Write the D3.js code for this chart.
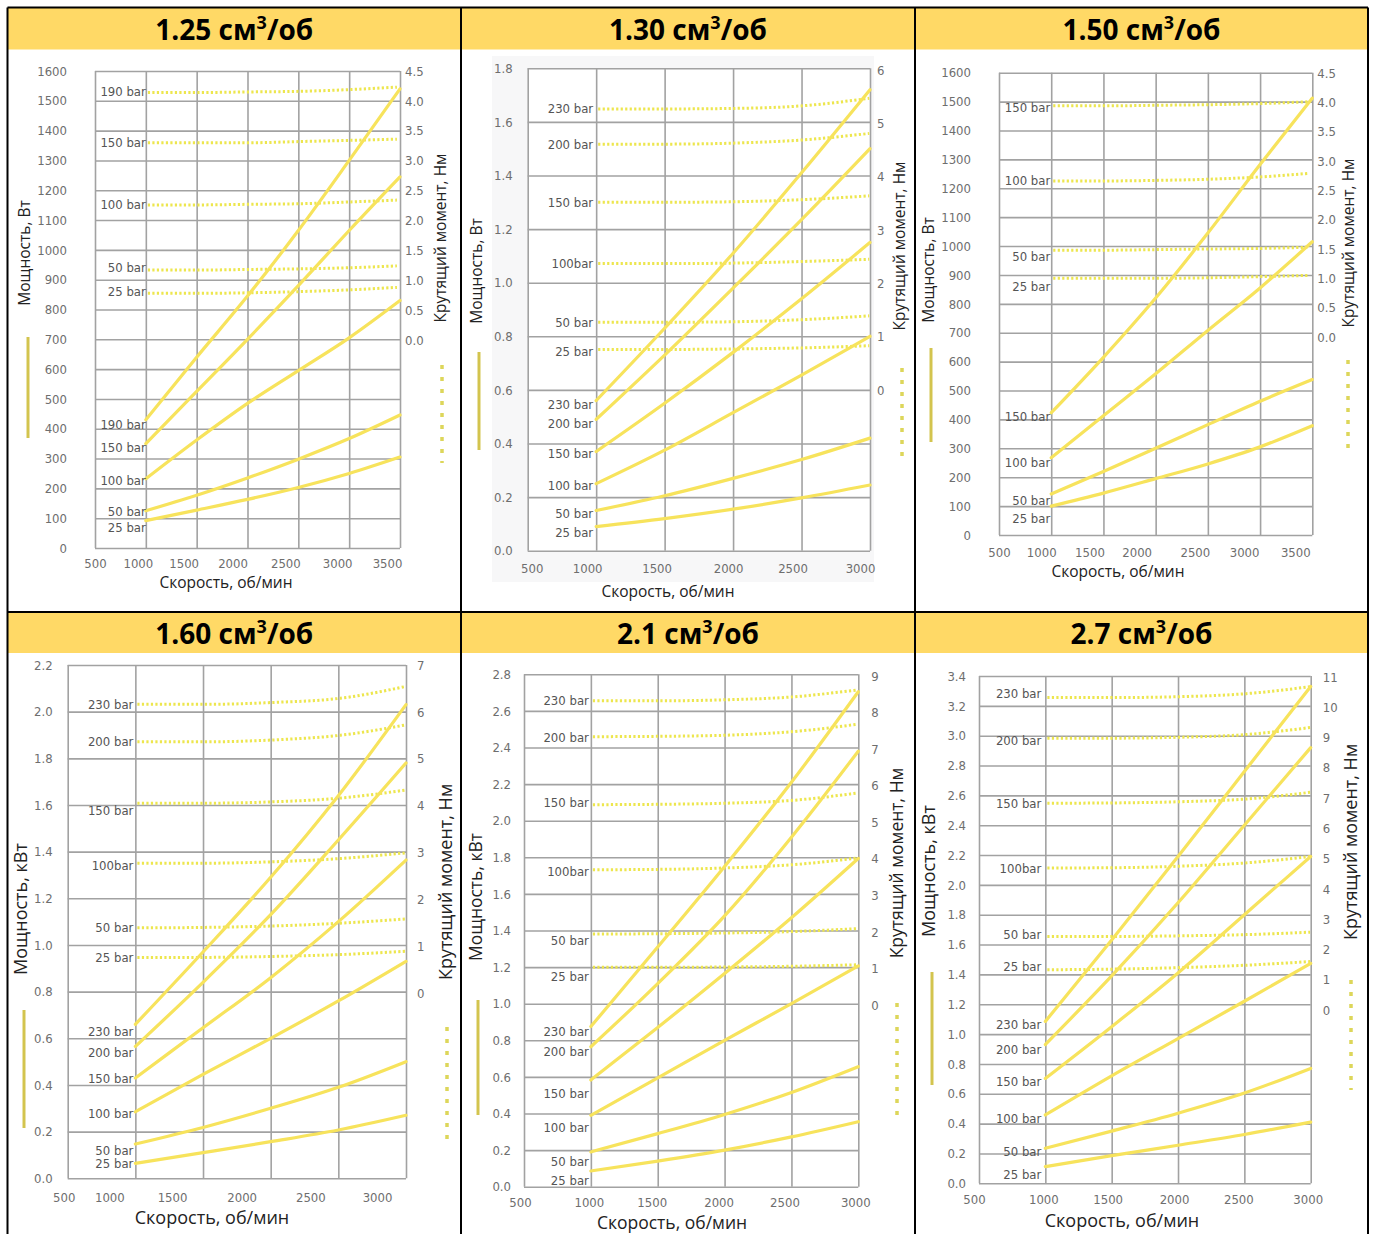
<!DOCTYPE html>
<html><head><meta charset="utf-8">
<script src="https://cdn.jsdelivr.net/npm/d3@7/dist/d3.min.js"></script>
<style>
body{margin:0;background:#fff;}
svg{display:block;}
.tk{font-family:"Liberation Sans Narrow","DejaVu Sans Condensed","Liberation Sans",Arial,sans-serif;font-size:13px;fill:#6e6e6e;}
.bl{font-family:"Liberation Sans Narrow","DejaVu Sans Condensed","Liberation Sans",Arial,sans-serif;font-size:13px;fill:#555;}
.at{font-family:"Open Sans","Noto Sans",sans-serif;fill:#222;}
.hd{font-family:"Open Sans","Noto Sans",sans-serif;font-weight:700;font-size:28px;fill:#000;}
</style></head><body>
<svg id="c" width="1376" height="1234"></svg>
<script>
// ---------------- DATA ----------------
const titles = ["1.25","1.30","1.50","1.60","2.1","2.7"];
const powerTitles = ["Мощность, Вт","Мощность, Вт","Мощность, Вт","Мощность, кВт","Мощность, кВт","Мощность, кВт"];
const torqueTitle = "Крутящий момент, Нм";
const speedTitle = "Скорость, об/мин";

const xTicks35 = [500,1000,1500,2000,2500,3000,3500];
const xTicks30 = [500,1000,1500,2000,2500,3000];
const rpm35 = [1000,1500,2000,2500,3000,3500];
const rpm30 = [1000,1500,2000,2500,3000];
const torqueRpm35 = [1000,1500,2000,2500,3000,3450];
const torqueRpm30 = [1000,1500,2000,2500,2980];

// panel 1: 1.25
const p1Bars = ["190 bar","150 bar","100 bar","50 bar","25 bar"];
const p1TorqueLabels = ["190 bar","150 bar","100 bar","50 bar","25 bar"];
const p1PowerTicks = [0,100,200,300,400,500,600,700,800,900,1000,1100,1200,1300,1400,1500,1600];
const p1TorqueTicks = [0,0.5,1.0,1.5,2.0,2.5,3.0,3.5,4.0,4.5];
const p1Power = [
  [430,640,845,1065,1300,1540],
  [350,525,700,880,1065,1245],
  [232,362,485,595,705,830],
  [125,177,235,298,367,446],
  [92,127,163,203,250,305]
];
const p1Torque = [
  [4.14,4.14,4.15,4.16,4.19,4.23],
  [3.30,3.30,3.30,3.32,3.34,3.36],
  [2.26,2.26,2.27,2.28,2.31,2.34],
  [1.17,1.17,1.18,1.19,1.21,1.24],
  [0.78,0.78,0.79,0.81,0.84,0.88]
];

// panel 2: 1.30
const p2Bars = ["230 bar","200 bar","150 bar","100 bar","50 bar","25 bar"];
const p2TorqueLabels = ["230 bar","200 bar","150 bar","100bar","50 bar","25 bar"];
const p2PowerTicks = [0,0.2,0.4,0.6,0.8,1.0,1.2,1.4,1.6,1.8];
const p2TorqueTicks = [0,1,2,3,4,5,6];
const p2Power = [
  [0.56,0.83,1.11,1.41,1.72],
  [0.49,0.73,0.98,1.235,1.50],
  [0.37,0.55,0.74,0.94,1.15],
  [0.25,0.375,0.515,0.655,0.80],
  [0.15,0.205,0.27,0.34,0.42],
  [0.09,0.12,0.155,0.197,0.245]
];
const p2Torque = [
  [5.27,5.27,5.28,5.33,5.47],
  [4.61,4.61,4.63,4.69,4.81],
  [3.52,3.52,3.53,3.57,3.64],
  [2.37,2.37,2.38,2.41,2.45],
  [1.27,1.27,1.28,1.32,1.39],
  [0.76,0.76,0.77,0.79,0.83]
];

// panel 3: 1.50
const p3Bars = ["150 bar","100 bar","50 bar","25 bar"];
const p3TorqueLabels = ["150 bar","100 bar","50 bar","25 bar"];
const p3PowerTicks = [0,100,200,300,400,500,600,700,800,900,1000,1100,1200,1300,1400,1500,1600];
const p3TorqueTicks = [0,0.5,1.0,1.5,2.0,2.5,3.0,3.5,4.0,4.5];
const p3Power = [
  [423,615,820,1045,1282,1512],
  [267,413,558,708,855,1015],
  [142,220,300,382,463,538],
  [100,145,195,246,305,378]
];
const p3Torque = [
  [3.94,3.94,3.95,3.96,3.98,4.01],
  [2.66,2.66,2.67,2.69,2.73,2.79],
  [1.48,1.48,1.49,1.50,1.51,1.53],
  [1.00,1.00,1.00,1.01,1.03,1.05]
];

// panel 4: 1.60
const p4Bars = ["230 bar","200 bar","150 bar","100 bar","50 bar","25 bar"];
const p4TorqueLabels = ["230 bar","200 bar","150 bar","100bar","50 bar","25 bar"];
const p4PowerTicks = [0,0.2,0.4,0.6,0.8,1.0,1.2,1.4,1.6,1.8,2.0,2.2];
const p4TorqueTicks = [0,1,2,3,4,5,6,7];
const p4Power = [
  [0.66,0.97,1.29,1.64,2.03],
  [0.565,0.84,1.13,1.45,1.78],
  [0.43,0.645,0.86,1.10,1.364],
  [0.285,0.445,0.60,0.76,0.93],
  [0.147,0.218,0.30,0.39,0.50],
  [0.064,0.11,0.157,0.207,0.27]
];
const p4Torque = [
  [6.16,6.16,6.20,6.29,6.54],
  [5.36,5.36,5.40,5.50,5.72],
  [4.05,4.05,4.08,4.16,4.33],
  [2.77,2.77,2.80,2.87,2.99],
  [1.39,1.40,1.43,1.49,1.58],
  [0.76,0.76,0.78,0.82,0.89]
];

// panel 5: 2.1
const p5Bars = ["230 bar","200 bar","150 bar","100 bar","50 bar","25 bar"];
const p5TorqueLabels = ["230 bar","200 bar","150 bar","100bar","50 bar","25 bar"];
const p5PowerTicks = [0,0.2,0.4,0.6,0.8,1.0,1.2,1.4,1.6,1.8,2.0,2.2,2.4,2.6,2.8];
const p5TorqueTicks = [0,1,2,3,4,5,6,7,8,9];
const p5Power = [
  [0.875,1.31,1.75,2.21,2.705],
  [0.765,1.11,1.48,1.91,2.38],
  [0.583,0.87,1.165,1.47,1.794],
  [0.39,0.595,0.80,1.0,1.207],
  [0.19,0.29,0.395,0.515,0.656],
  [0.086,0.14,0.20,0.272,0.355]
];
const p5Torque = [
  [8.32,8.32,8.35,8.43,8.62],
  [7.34,7.35,7.38,7.48,7.68],
  [5.48,5.49,5.52,5.60,5.80],
  [3.70,3.71,3.75,3.84,4.02],
  [1.94,1.95,1.97,2.01,2.09],
  [1.03,1.03,1.04,1.06,1.10]
];

// panel 6: 2.7
const p6Bars = ["230 bar","200 bar","150 bar","100 bar","50 bar","25 bar"];
const p6TorqueLabels = ["230 bar","200 bar","150 bar","100bar","50 bar","25 bar"];
const p6PowerTicks = [0,0.2,0.4,0.6,0.8,1.0,1.2,1.4,1.6,1.8,2.0,2.2,2.4,2.6,2.8,3.0,3.2,3.4];
const p6TorqueTicks = [0,1,2,3,4,5,6,7,8,9,10,11];
const p6Power = [
  [1.085,1.63,2.19,2.76,3.33],
  [0.93,1.39,1.88,2.40,2.92],
  [0.703,1.05,1.41,1.80,2.19],
  [0.458,0.72,0.97,1.22,1.474],
  [0.235,0.35,0.47,0.605,0.77],
  [0.112,0.185,0.255,0.327,0.41]
];
const p6Torque = [
  [10.32,10.32,10.35,10.45,10.68],
  [8.98,8.98,9.01,9.10,9.33],
  [6.83,6.84,6.88,6.97,7.19],
  [4.69,4.70,4.75,4.86,5.07],
  [2.43,2.43,2.45,2.49,2.57],
  [1.33,1.35,1.40,1.48,1.60]
];

const panelData = [
  {bars:p1Bars, tl:p1TorqueLabels, pt:p1PowerTicks, tt:p1TorqueTicks, pw:p1Power, tq:p1Torque, xt:xTicks35, rpm:rpm35, trpm:torqueRpm35, pf:d3.format("d"), tf:d3.format(".1f")},
  {bars:p2Bars, tl:p2TorqueLabels, pt:p2PowerTicks, tt:p2TorqueTicks, pw:p2Power, tq:p2Torque, xt:xTicks30, rpm:rpm30, trpm:torqueRpm30, pf:d3.format(".1f"), tf:d3.format("d")},
  {bars:p3Bars, tl:p3TorqueLabels, pt:p3PowerTicks, tt:p3TorqueTicks, pw:p3Power, tq:p3Torque, xt:xTicks35, rpm:rpm35, trpm:torqueRpm35, pf:d3.format("d"), tf:d3.format(".1f")},
  {bars:p4Bars, tl:p4TorqueLabels, pt:p4PowerTicks, tt:p4TorqueTicks, pw:p4Power, tq:p4Torque, xt:xTicks30, rpm:rpm30, trpm:torqueRpm30, pf:d3.format(".1f"), tf:d3.format("d")},
  {bars:p5Bars, tl:p5TorqueLabels, pt:p5PowerTicks, tt:p5TorqueTicks, pw:p5Power, tq:p5Torque, xt:xTicks30, rpm:rpm30, trpm:torqueRpm30, pf:d3.format(".1f"), tf:d3.format("d")},
  {bars:p6Bars, tl:p6TorqueLabels, pt:p6PowerTicks, tt:p6TorqueTicks, pw:p6Power, tq:p6Torque, xt:xTicks30, rpm:rpm30, trpm:torqueRpm30, pf:d3.format(".1f"), tf:d3.format("d")}
];

// ---------------- LAYOUT ----------------
const colX = [7.5, 461, 915, 1368];
const rowY = [7.5, 612];
const headH = [42, 41];
const layout = [
  {x:[95,400], y:[548,71], t:[340,71], yGap:28, tGap:5, xLabY:563, xShift:[0,-8,-13,-15,-13,-12,-13], labX:0,
   dyT:[-1,0,0,-3,-2], dyP:[5,4,2,1,7], lt:[25,253], rt:[441,238], bt:[226,583], fs:15.5, legS:[28,337,438], legD:[442,365,463]},
  {x:[527.7,870], y:[550.7,68.3], t:[390,70], yGap:15, tGap:7, xLabY:568, xShift:[4,-9,-8,-5,-9,-10], labX:-3,
   dyT:[0,0,0,0,0,2], dyP:[4,4,2,2,3,6], lt:[477,271], rt:[900,246], bt:[668,592], fs:15.5, legS:[479,352,450], legD:[902,368,463], bg:[492,56,874,582]},
  {x:[999,1312.3], y:[535,72.7], t:[337,73], yGap:28, tGap:5, xLabY:552, xShift:[0,-10,-14,-19,-13,-16,-17], labX:-1,
   dyT:[2,0,6,8], dyP:[4,5,6,12], lt:[929,270], rt:[1349,243], bt:[1118,572], fs:15.5, legS:[931,348,442], legD:[1348,360,452]},
  {x:[67.7,406], y:[1178.3,665], t:[993,665], yGap:15, tGap:11, xLabY:1197, xShift:[-4,-26,-31,-29,-28,-29], labX:-2,
   dyT:[0,0,7,2,0,0], dyP:[7,6,0,2,6,0], lt:[21,909], rt:[446,882], bt:[212,1218], fs:18, legS:[24,1010,1128], legD:[447,1027,1143]},
  {x:[524,858.3], y:[1186.7,674.3], t:[1005,676], yGap:13, tGap:13, xLabY:1202, xShift:[-4,-2,-6,-6,-7,-3], labX:-2,
   dyT:[0,1,-2,2,6,9], dyP:[5,5,13,12,10,9], lt:[476,897], rt:[897,863], bt:[672,1223], fs:17.5, legS:[478,1000,1115], legD:[897,1003,1117]},
  {x:[979,1310.7], y:[1183.3,676], t:[1010,677], yGap:13, tGap:12, xLabY:1199, xShift:[-5,-2,-4,-4,-6,-3], labX:-4,
   dyT:[-4,2,0,0,-2,-3], dyP:[3,5,3,3,3,8], lt:[929,871], rt:[1351,842], bt:[1122,1221], fs:18, legS:[932,972,1085], legD:[1351,980,1090]}
];

// ---------------- DRAW ----------------
const svg = d3.select("#c");
svg.append("rect").attr("width",1376).attr("height",1234).attr("fill","#fff");

// headers
titles.forEach((t,i)=>{
  const c = i%3, r = Math.floor(i/3);
  svg.append("rect").attr("x",colX[c]).attr("y",rowY[r]).attr("width",colX[c+1]-colX[c]).attr("height",headH[r]).attr("fill","#FFD966");
  const tx = svg.append("text").attr("class","hd").attr("text-anchor","middle")
    .attr("x",(colX[c]+colX[c+1])/2).attr("y",rowY[r]+32);
  tx.append("tspan").text(t+" см");
  tx.append("tspan").text("3").attr("font-size","18px").attr("dy",-11);
  tx.append("tspan").text("/об").attr("dy",11);
});

const GRID = "#a2a2a2";
const YEL = "#f7e35c";
const DOT = "#ede64e";
const intFmt = d3.format("d");

panelData.forEach((D,i)=>{
  const L = layout[i];
  const g = svg.append("g");
  const x = d3.scaleLinear().domain([D.xt[0], D.xt[D.xt.length-1]]).range(L.x);
  const y = d3.scaleLinear().domain([D.pt[0], D.pt[D.pt.length-1]]).range(L.y);
  const t = d3.scaleLinear().domain([D.tt[0], D.tt[D.tt.length-1]]).range(L.t);

  if (L.bg) g.append("rect").attr("x",L.bg[0]).attr("y",L.bg[1]).attr("width",L.bg[2]-L.bg[0]).attr("height",L.bg[3]-L.bg[1]).attr("fill","#f7f7f8");
  g.append("rect").attr("x",L.x[0]).attr("y",L.y[1]).attr("width",L.x[1]-L.x[0]).attr("height",L.y[0]-L.y[1]).attr("fill","#fff");

  // grid via axes
  g.append("g").attr("transform",`translate(0,${L.y[0]})`)
    .call(d3.axisBottom(x).tickValues(D.xt).tickSize(-(L.y[0]-L.y[1])).tickFormat(""))
    .call(a=>a.select(".domain").remove())
    .call(a=>a.selectAll("line").attr("stroke",GRID).attr("stroke-width",1.6));
  g.append("g").attr("transform",`translate(${L.x[0]},0)`)
    .call(d3.axisLeft(y).tickValues(D.pt).tickSize(-(L.x[1]-L.x[0])).tickFormat(""))
    .call(a=>a.select(".domain").remove())
    .call(a=>a.selectAll("line").attr("stroke",GRID).attr("stroke-width",1.6));

  const styleText = a=>a.selectAll("text").attr("class","tk").attr("font-size",null).attr("font-family",null).attr("fill",null);
  // left tick labels
  g.append("g").attr("transform",`translate(${L.x[0]},0)`)
    .call(d3.axisLeft(y).tickValues(D.pt).tickSize(0).tickPadding(L.yGap).tickFormat(D.pf))
    .call(a=>a.select(".domain").remove()).call(styleText);
  // right torque labels
  g.append("g").attr("transform",`translate(${L.x[1]},0)`)
    .call(d3.axisRight(t).tickValues(D.tt).tickSize(0).tickPadding(L.tGap).tickFormat(D.tf))
    .call(a=>a.select(".domain").remove()).call(styleText);
  // bottom labels
  g.append("g").attr("transform",`translate(0,${L.xLabY})`)
    .call(d3.axisBottom(x).tickValues(D.xt).tickSize(0).tickPadding(0).tickFormat(intFmt))
    .call(a=>a.select(".domain").remove()).call(styleText)
    .call(a=>a.selectAll("text").attr("dy","0.35em").attr("y",0).attr("x",(d,k)=>L.xShift[k]||0));

  // torque dotted lines
  const tLine = d3.line().x((d,k)=>x(D.trpm[k])+2).y(d=>t(d)).curve(d3.curveMonotoneX);
  g.selectAll(".tq").data(D.tq).join("path").attr("d",tLine).attr("fill","none")
    .attr("stroke",DOT).attr("stroke-width",3).attr("stroke-dasharray","2.2,2.3");
  // power solid lines
  const pLine = d3.line().x((d,k)=>x(D.rpm[k])).y(d=>y(d)).curve(d3.curveMonotoneX);
  g.selectAll(".pw").data(D.pw).join("path").attr("d",pLine).attr("fill","none")
    .attr("stroke",YEL).attr("stroke-width",3.2).attr("stroke-linecap","round");

  // labels
  const lx = x(D.rpm[0]) + L.labX;
  g.selectAll(".tlab").data(D.tl).join("text").attr("class","bl").attr("text-anchor","end")
    .attr("x",lx).attr("y",(d,k)=>t(D.tq[k][0])+L.dyT[k]).attr("dy","0.35em").text(d=>d);
  g.selectAll(".plab").data(D.bars).join("text").attr("class","bl").attr("text-anchor","end")
    .attr("x",lx).attr("y",(d,k)=>y(D.pw[k][0])+L.dyP[k]).attr("dy","0.35em").text(d=>d);

  // axis titles
  g.append("text").attr("class","at").attr("font-size",L.fs+"px").attr("text-anchor","middle")
    .attr("transform",`translate(${L.lt[0]},${L.lt[1]}) rotate(-90)`).attr("dy","0.35em").text(powerTitles[i]);
  g.append("text").attr("class","at").attr("font-size",L.fs+"px").attr("text-anchor","middle")
    .attr("transform",`translate(${L.rt[0]},${L.rt[1]}) rotate(-90)`).attr("dy","0.35em").text(torqueTitle);
  g.append("text").attr("class","at").attr("font-size",L.fs+"px").attr("text-anchor","middle")
    .attr("x",L.bt[0]).attr("y",L.bt[1]).attr("dy","0.35em").text(speedTitle);

  // legend marks
  g.append("line").attr("x1",L.legS[0]).attr("x2",L.legS[0]).attr("y1",L.legS[1]).attr("y2",L.legS[2])
    .attr("stroke","#d3c44e").attr("stroke-width",3);
  g.append("line").attr("x1",L.legD[0]).attr("x2",L.legD[0]).attr("y1",L.legD[1]).attr("y2",L.legD[2])
    .attr("stroke","#ddd65a").attr("stroke-width",3.5).attr("stroke-dasharray","4,8");
});

// table borders
const B = svg.append("g").attr("stroke","#000").attr("stroke-width",2);
colX.forEach(cx=>B.append("line").attr("x1",cx).attr("x2",cx).attr("y1",rowY[0]).attr("y2",1234));
rowY.forEach(ry=>B.append("line").attr("x1",colX[0]).attr("x2",colX[3]).attr("y1",ry).attr("y2",ry));
</script>
</body></html>
